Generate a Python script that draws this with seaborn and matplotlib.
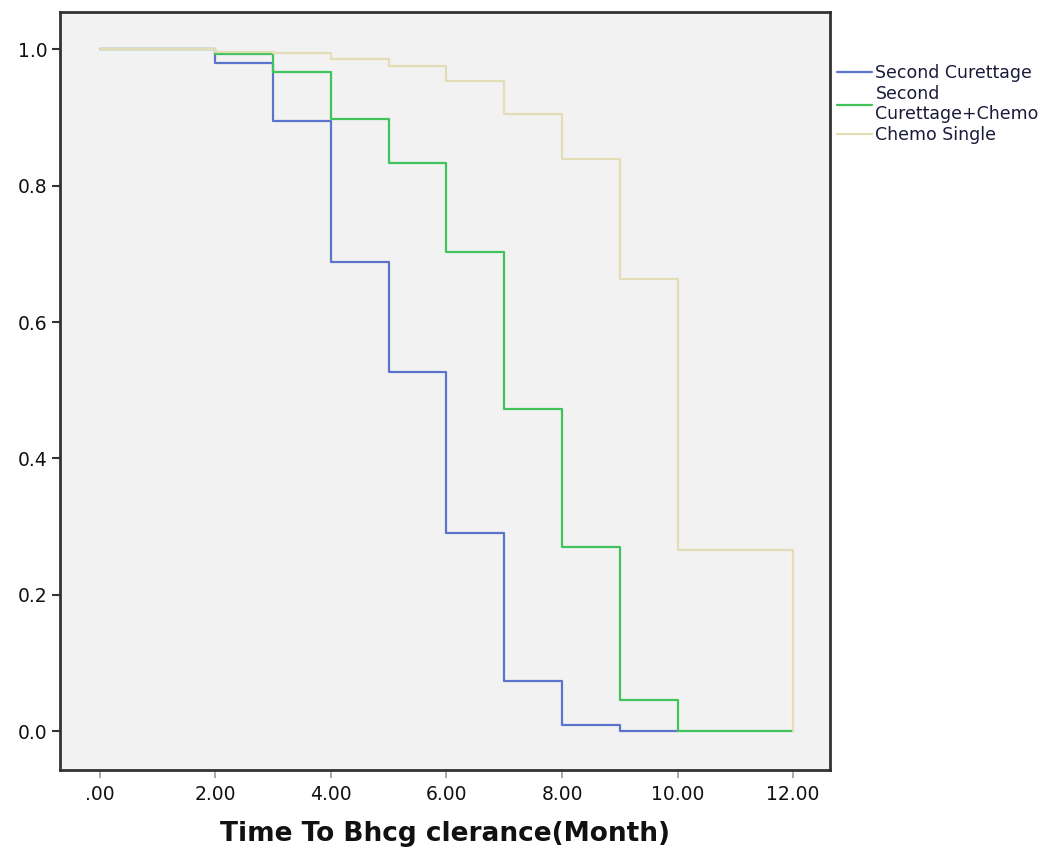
import pandas as pd
import matplotlib.pyplot as plt
import seaborn as sns
from matplotlib.ticker import FuncFormatter

# survival step values (value holds from that month onward)
groups = ["Second Curettage", "Second\nCurettage+Chemo", "Chemo Single"]
curettage_t = [0, 2, 3, 4, 5, 6, 7, 8, 9, 10]
curettage_s = [1.0, 0.980, 0.895, 0.688, 0.527, 0.290, 0.073, 0.009, 0.0, 0.0]
cur_chemo_t = [0, 2, 3, 4, 5, 6, 7, 8, 9, 10, 12]
cur_chemo_s = [1.0, 0.994, 0.967, 0.898, 0.833, 0.703, 0.473, 0.270, 0.045, 0.0, 0.0]
chemo_t = [0, 2, 3, 4, 5, 6, 7, 8, 9, 10, 12]
chemo_s = [1.0, 0.997, 0.995, 0.986, 0.976, 0.954, 0.905, 0.839, 0.663, 0.265, 0.0]

colors = ["#5b74cc", "#3fc45c", "#e2ddb4"]

df = pd.concat([
    pd.DataFrame({"time": curettage_t, "surv": curettage_s, "group": groups[0]}),
    pd.DataFrame({"time": cur_chemo_t, "surv": cur_chemo_s, "group": groups[1]}),
    pd.DataFrame({"time": chemo_t, "surv": chemo_s, "group": groups[2]}),
])

sns.set_style("white")
plt.rcParams["font.family"] = ["DejaVu Sans"]

fig = plt.figure(figsize=(10.59, 8.51), dpi=100)
ax = fig.add_axes([0.0567, 0.0952, 0.7271, 0.8907])
ax.set_facecolor("#f2f2f2")

sns.lineplot(data=df, x="time", y="surv", hue="group", hue_order=groups,
             palette=colors, estimator=None, sort=False, drawstyle="steps-post",
             linewidth=1.6, ax=ax, legend=False)

ax.set_xlim(-0.69, 12.64)
ax.set_ylim(-0.057, 1.055)
ax.set_xticks([0, 2, 4, 6, 8, 10, 12])
ax.set_yticks([0.0, 0.2, 0.4, 0.6, 0.8, 1.0])
ax.xaxis.set_major_formatter(FuncFormatter(lambda v, p: ".00" if v == 0 else f"{v:.2f}"))
ax.yaxis.set_major_formatter(FuncFormatter(lambda v, p: f"{v:.1f}"))
ax.tick_params(axis="y", direction="out", length=6, width=1.5, color="#333333",
               labelsize=13.5, labelcolor="#111111", left=True, pad=3)
ax.tick_params(axis="x", direction="out", length=6, width=1.2, color="#999999",
               labelsize=13.5, labelcolor="#111111", bottom=True, pad=5)
for s in ax.spines.values():
    s.set_color("#333333")
    s.set_linewidth(2)

ax.set_xlabel("Time To Bhcg clerance(Month)", fontsize=19, fontweight="bold",
              color="#111111", labelpad=12)
ax.set_ylabel("")

handles = [plt.Line2D([], [], color=c, lw=1.6) for c in colors]
leg = fig.legend(handles, groups, loc="upper left", bbox_to_anchor=(0.784, 0.933),
                 frameon=False, fontsize=12.5, handlelength=2.0, handletextpad=0.2,
                 labelspacing=0.15, borderaxespad=0)
for t in leg.get_texts():
    t.set_color("#1a1a3a")
    t.set_linespacing(1.2)

fig.savefig("out.png", dpi=100)
